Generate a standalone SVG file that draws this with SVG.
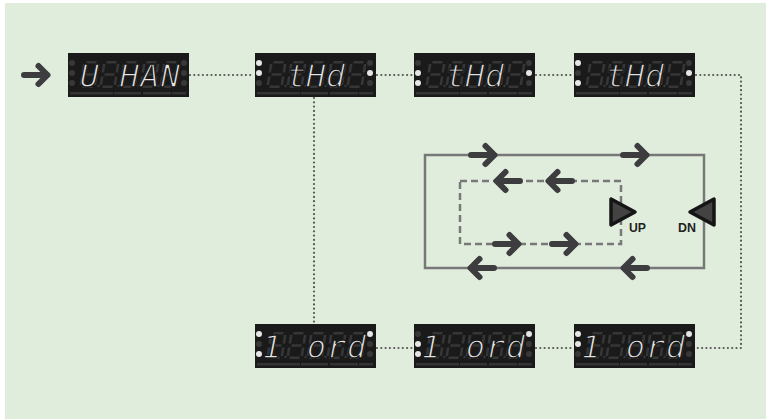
<svg xmlns="http://www.w3.org/2000/svg" xmlns:xlink="http://www.w3.org/1999/xlink" width="766" height="419" viewBox="0 0 766 419">
<style>
.body{fill:#1a1a1a}
.strip{fill:#343434}
.on{fill:#e6e6e6}
.off{fill:#383838}
.seg{fill:none;stroke:#363636;stroke-width:2.6}
.lit{font-family:"DejaVu Sans Mono","Liberation Mono",monospace;font-style:oblique;font-size:32px;fill:#e4e4e4;stroke:#1a1a1a;stroke-width:1.3;text-anchor:middle}
.dot{fill:none;stroke:#555;stroke-width:2.2;stroke-linecap:round;stroke-dasharray:0 4.3}
.arr{fill:none;stroke:#3d3d40;stroke-width:6;stroke-linecap:round;stroke-linejoin:round}
.loop{fill:none;stroke:#787878;stroke-width:2.5}
.btn{fill:#434343;stroke:#151515;stroke-width:3.5;stroke-linejoin:round}
.lbl{font-family:"Liberation Sans",Arial,sans-serif;font-weight:bold;font-size:12.5px;fill:#222}
</style>
<defs>
<g id="d8" transform="skewX(-9)"><path class="seg" d="M-5,-12.3H5M-5,0H5M-5,12.3H5M-7,-10.5V-2M7,-10.5V-2M-7,2V10.5M7,2V10.5"/></g>
<g id="digits">
<use xlink:href="#d8" x="21.5" y="21.5"/><use xlink:href="#d8" x="41.5" y="21.5"/><use xlink:href="#d8" x="61.5" y="21.5"/><use xlink:href="#d8" x="81.5" y="21.5"/><use xlink:href="#d8" x="101.5" y="21.5"/>
<circle class="off" cx="30.5" cy="33" r="1.2"/><circle class="off" cx="50.5" cy="33" r="1.2"/><circle class="off" cx="70.5" cy="33" r="1.2"/><circle class="off" cx="90.5" cy="33" r="1.2"/>
</g>
<g id="frame">
<rect class="body" x="0" y="0" width="121" height="44"/>
<rect class="strip" x="2" y="39" width="43" height="2.5"/><rect class="strip" x="46" y="39" width="27" height="2.5"/><rect class="strip" x="75" y="39" width="28" height="2.5"/><rect class="strip" x="104" y="39" width="14" height="2.5"/>
<use xlink:href="#digits"/>
</g>
<g id="arrow"><path class="arr" d="M-12,0H11M2.5,-9L11.5,0L2.5,9"/></g>
</defs>
<rect x="5" y="3" width="761" height="416" fill="#e1eddc"/>

<g id="connectors">
<path class="dot" d="M190,75H254"/>
<path class="dot" d="M377,75H413"/>
<path class="dot" d="M536,75H573"/>
<path class="dot" d="M696,75H741V348H696"/>
<path class="dot" d="M314,98V323"/>
<path class="dot" d="M377,348H413"/>
<path class="dot" d="M536,348H573"/>
<use xlink:href="#arrow" x="36" y="75"/>
</g>

<g id="n1" transform="translate(68,53)">
<use xlink:href="#frame"/>
<circle class="off" cx="4" cy="10" r="3"/><circle class="off" cx="4" cy="20" r="3"/><circle class="off" cx="4" cy="30" r="3"/>
<circle class="off" cx="116" cy="10" r="3"/><circle class="off" cx="116" cy="20" r="3"/><circle class="off" cx="116" cy="30" r="3"/>
<text class="lit" x="21.5 41.5 61.5 82 102.5" y="34">U HAN</text>
</g>

<g id="n2" transform="translate(255,53)">
<use xlink:href="#frame"/>
<circle class="on" cx="4" cy="10" r="3"/><circle class="on" cx="4" cy="20" r="3"/><circle class="off" cx="4" cy="30" r="3"/>
<circle class="off" cx="115" cy="10" r="3"/><circle class="on" cx="115" cy="20" r="3"/><circle class="off" cx="115" cy="30" r="3"/>
<text class="lit" x="41.5 61 80.5" y="34">tHd</text>
</g>

<g id="n3" transform="translate(414,53)">
<use xlink:href="#frame"/>
<circle class="off" cx="4" cy="10" r="3"/><circle class="on" cx="4" cy="20" r="3"/><circle class="on" cx="4" cy="30" r="3"/>
<circle class="off" cx="115" cy="10" r="3"/><circle class="on" cx="115" cy="20" r="3"/><circle class="off" cx="115" cy="30" r="3"/>
<text class="lit" x="41.5 61 80.5" y="34">tHd</text>
</g>

<g id="n4" transform="translate(574,53)">
<use xlink:href="#frame"/>
<circle class="on" cx="4" cy="10" r="3"/><circle class="off" cx="4" cy="20" r="3"/><circle class="on" cx="4" cy="30" r="3"/>
<circle class="off" cx="115" cy="10" r="3"/><circle class="on" cx="115" cy="20" r="3"/><circle class="off" cx="115" cy="30" r="3"/>
<text class="lit" x="41.5 61 80.5" y="34">tHd</text>
</g>

<g id="n5" transform="translate(255,324)">
<use xlink:href="#frame"/>
<circle class="on" cx="4" cy="10" r="3"/><circle class="off" cx="4" cy="20" r="3"/><circle class="on" cx="4" cy="30" r="3"/>
<circle class="on" cx="115" cy="10" r="3"/><circle class="off" cx="115" cy="20" r="3"/><circle class="off" cx="115" cy="30" r="3"/>
<text class="lit" x="17 41.5 61.5 81.5 101.5" y="34">1 ord</text>
</g>

<g id="n6" transform="translate(414,324)">
<use xlink:href="#frame"/>
<circle class="off" cx="4" cy="10" r="3"/><circle class="on" cx="4" cy="20" r="3"/><circle class="on" cx="4" cy="30" r="3"/>
<circle class="on" cx="115" cy="10" r="3"/><circle class="off" cx="115" cy="20" r="3"/><circle class="off" cx="115" cy="30" r="3"/>
<text class="lit" x="17 41.5 61.5 81.5 101.5" y="34">1 ord</text>
</g>

<g id="n7" transform="translate(574,324)">
<use xlink:href="#frame"/>
<circle class="on" cx="4" cy="10" r="3"/><circle class="on" cx="4" cy="20" r="3"/><circle class="off" cx="4" cy="30" r="3"/>
<circle class="on" cx="115" cy="10" r="3"/><circle class="off" cx="115" cy="20" r="3"/><circle class="off" cx="115" cy="30" r="3"/>
<text class="lit" x="17 41.5 61.5 81.5 101.5" y="34">1 ord</text>
</g>

<g id="loop">
<rect class="loop" x="425" y="155" width="279" height="113"/>
<rect class="loop" x="460" y="181" width="161" height="63" stroke-dasharray="7 4"/>
<use xlink:href="#arrow" x="483" y="155"/>
<use xlink:href="#arrow" x="635" y="155"/>
<use xlink:href="#arrow" transform="translate(508,181) rotate(180)"/>
<use xlink:href="#arrow" transform="translate(560,181) rotate(180)"/>
<use xlink:href="#arrow" x="507" y="244"/>
<use xlink:href="#arrow" x="564" y="244"/>
<use xlink:href="#arrow" transform="translate(482,268) rotate(180)"/>
<use xlink:href="#arrow" transform="translate(635,268) rotate(180)"/>
</g>

<g id="up">
<path class="btn" d="M611,199L611,225L635,212Z"/>
<text class="lbl" x="629" y="232" textLength="17" lengthAdjust="spacingAndGlyphs">UP</text>
</g>
<g id="dn">
<path class="btn" d="M714,199L714,225L690,212Z"/>
<text class="lbl" x="678" y="232" textLength="18" lengthAdjust="spacingAndGlyphs">DN</text>
</g>
</svg>
